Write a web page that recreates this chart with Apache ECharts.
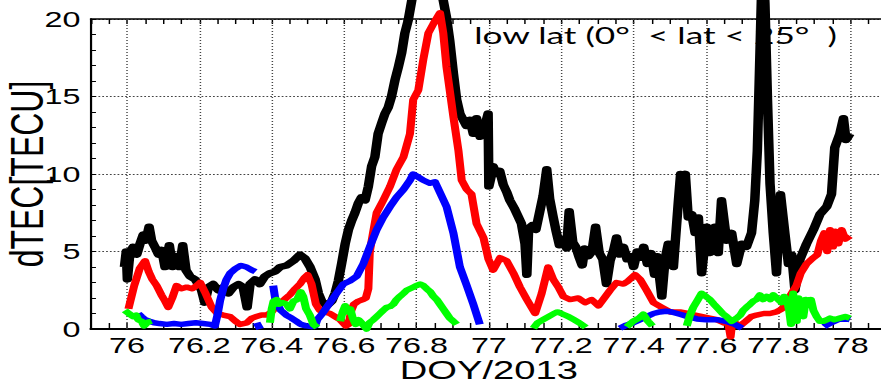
<!DOCTYPE html>
<html>
<head>
<meta charset="utf-8">
<script src="https://cdn.jsdelivr.net/npm/echarts@6/dist/echarts.min.js"></script>
<style>
html,body{margin:0;padding:0;background:#fff;overflow:hidden;width:881px;height:384px;}
#c{width:600px;height:384px;transform:scaleX(1.468333);transform-origin:0 0;}
</style>
</head>
<body>
<div id="c"></div>
<script>
const xTickLabels = [76, 76.2, 76.4, 76.6, 76.8, 77, 77.2, 77.4, 77.6, 77.8, 78];
const yTickLabels = [0, 5, 10, 15, 20];

const black = [
[75.993,4.0],[75.998,5.0],[76.001,3.2],[76.008,4.9],[76.017,5.3],[76.027,4.8],[76.036,5.5],[76.045,6.1],[76.052,5.7],[76.061,6.6],[76.068,5.7],[76.077,5.3],[76.087,4.8],[76.096,5.1],[76.105,4.0],[76.117,5.4],[76.126,4.0],[76.135,4.7],[76.145,4.0],[76.154,5.4],[76.163,3.8],[76.174,3.4],[76.188,3.2],[76.197,2.9],[76.206,2.5],[76.215,1.7],[76.225,2.7],[76.238,2.9],[76.252,2.5],[76.266,2.7],[76.280,2.3],[76.294,2.7],[76.308,2.9],[76.321,2.7],[76.332,1.4],[76.340,2.9],[76.354,3.2],[76.367,2.9],[76.381,3.4],[76.395,3.6],[76.409,3.7],[76.423,4.0],[76.441,4.1],[76.460,4.4],[76.478,4.8],[76.492,4.55],[76.506,4.0],[76.520,3.2],[76.529,2.3],[76.538,1.8],[76.552,1.5],[76.566,1.8],[76.575,2.3],[76.584,3.1],[76.593,4.2],[76.603,5.5],[76.612,6.4],[76.621,7.0],[76.630,7.5],[76.639,8.1],[76.648,8.5],[76.658,8.3],[76.667,9.2],[76.676,10.5],[76.685,11.1],[76.694,12.6],[76.704,13.3],[76.713,13.9],[76.722,14.3],[76.731,15.0],[76.741,16.1],[76.750,16.9],[76.759,17.8],[76.768,19.1],[76.777,19.9],[76.787,21.2],[76.805,23.5],[76.830,24.5],[76.855,23.5],[76.874,21.2],[76.883,20.1],[76.892,18.6],[76.902,16.5],[76.911,14.8],[76.920,13.9],[76.929,13.5],[76.938,13.1],[76.948,13.5],[76.957,12.6],[76.966,13.6],[76.976,12.4],[76.989,13.1],[76.998,13.9],[77.000,9.2],[77.005,9.7],[77.012,10.5],[77.020,10.0],[77.030,10.2],[77.040,9.3],[77.050,8.8],[77.058,8.3],[77.070,7.8],[77.080,7.3],[77.090,6.8],[77.100,5.5],[77.105,3.5],[77.110,6.5],[77.120,6.7],[77.130,6.4],[77.140,7.5],[77.150,8.6],[77.160,10.3],[77.168,8.4],[77.178,7.2],[77.186,6.3],[77.195,5.4],[77.205,5.8],[77.215,5.2],[77.222,7.6],[77.232,5.6],[77.240,5.3],[77.250,4.6],[77.258,4.1],[77.265,5.2],[77.275,4.7],[77.285,5.0],[77.295,6.6],[77.305,4.9],[77.315,4.5],[77.325,2.9],[77.335,4.4],[77.345,5.1],[77.353,5.9],[77.362,4.8],[77.372,5.3],[77.382,4.5],[77.392,4.7],[77.400,4.0],[77.410,5.0],[77.420,4.6],[77.428,5.3],[77.438,4.2],[77.448,4.9],[77.458,3.5],[77.465,4.7],[77.478,2.1],[77.487,4.5],[77.496,5.5],[77.510,4.0],[77.524,8.3],[77.530,10.0],[77.537,9.8],[77.543,10.0],[77.551,7.2],[77.561,7.4],[77.570,6.2],[77.579,7.2],[77.588,3.6],[77.602,6.6],[77.611,4.9],[77.625,6.6],[77.634,4.9],[77.643,8.3],[77.657,5.7],[77.671,6.2],[77.685,4.2],[77.699,5.5],[77.712,5.3],[77.726,6.2],[77.735,8.3],[77.742,11.5],[77.747,15.8],[77.754,22.0],[77.759,23.0],[77.763,21.0],[77.770,14.8],[77.777,9.4],[77.786,6.2],[77.795,3.6],[77.806,8.7],[77.818,6.2],[77.828,4.2],[77.837,4.8],[77.846,2.5],[77.860,4.5],[77.878,5.5],[77.897,6.4],[77.915,7.4],[77.934,7.9],[77.947,8.7],[77.956,11.7],[77.970,12.6],[77.980,13.6],[77.987,12.2],[77.998,12.6]
];

const red = [
[76.004,1.3],[76.020,2.8],[76.035,3.9],[76.050,4.4],[76.060,3.7],[76.070,3.2],[76.082,2.8],[76.095,2.2],[76.105,1.8],[76.114,1.4],[76.125,2.0],[76.137,2.8],[76.150,2.6],[76.165,2.7],[76.180,2.6],[76.193,2.8],[76.202,3.0],[76.215,2.4],[76.234,1.4],[76.250,1.0],[76.266,0.9],[76.285,0.8],[76.300,0.5],[76.312,0.3],[76.331,0.4],[76.345,0.7],[76.358,0.8],[76.372,0.9],[76.386,0.9],[76.400,1.1],[76.418,1.6],[76.435,1.9],[76.450,2.2],[76.465,2.6],[76.478,2.9],[76.490,3.3],[76.499,3.5],[76.510,2.9],[76.522,1.6],[76.533,1.2],[76.547,1.1],[76.561,1.0],[76.575,0.8],[76.589,0.6],[76.605,0.2],[76.612,0.3],[76.620,1.2],[76.627,1.6],[76.640,1.8],[76.652,1.9],[76.660,2.0],[76.667,2.6],[76.671,5.0],[76.680,6.2],[76.690,7.5],[76.708,8.3],[76.727,9.2],[76.745,10.3],[76.764,11.1],[76.782,12.6],[76.791,14.8],[76.805,15.4],[76.819,17.4],[76.833,19.1],[76.847,19.7],[76.865,20.4],[76.874,19.1],[76.883,16.9],[76.902,13.7],[76.916,11.5],[76.925,9.6],[76.939,9.0],[76.952,8.7],[76.966,6.8],[76.985,5.9],[76.999,4.5],[77.012,3.8],[77.031,4.6],[77.049,4.4],[77.068,3.6],[77.086,2.7],[77.105,1.9],[77.128,1.0],[77.146,2.3],[77.164,4.0],[77.178,3.2],[77.192,2.7],[77.206,2.1],[77.224,1.9],[77.247,2.0],[77.266,1.7],[77.284,1.9],[77.303,1.5],[77.316,1.9],[77.335,2.5],[77.353,3.0],[77.372,2.9],[77.385,3.1],[77.404,3.5],[77.418,3.2],[77.436,2.5],[77.455,1.7],[77.478,1.4],[77.501,1.1],[77.528,1.1],[77.550,1.0],[77.570,0.9],[77.590,0.8],[77.610,0.7],[77.630,0.6],[77.650,0.4],[77.660,0.6],[77.668,-0.5],[77.673,0.5],[77.694,0.2],[77.710,0.5],[77.725,0.8],[77.740,0.9],[77.760,1.0],[77.777,1.0],[77.795,1.1],[77.810,1.3],[77.823,1.75],[77.837,2.3],[77.850,2.8],[77.862,3.6],[77.878,4.2],[77.897,4.6],[77.908,4.8],[77.918,5.7],[77.927,6.2],[77.935,5.0],[77.943,6.4],[77.951,5.3],[77.958,6.3],[77.966,5.5],[77.975,6.4],[77.985,5.8],[77.998,6.0]
];

const blue = [
[76.031,1.0],[76.040,0.8],[76.050,0.6],[76.062,0.5],[76.075,0.4],[76.090,0.35],[76.110,0.3],[76.130,0.35],[76.150,0.3],[76.170,0.35],[76.190,0.4],[76.210,0.35],[76.230,0.3],[76.243,0.2],[76.250,0.9],[76.257,1.8],[76.266,2.6],[76.275,3.2],[76.285,3.6],[76.300,3.9],[76.315,4.1],[76.330,4.0],[76.345,3.8],[76.355,3.7],[76.356,null],
[76.358,0.4],[76.368,0.0],[76.370,null],
[76.404,2.8],[76.410,1.9],[76.418,1.5],[76.425,1.2],[76.440,0.9],[76.455,0.7],[76.468,0.5],[76.480,0.3],[76.495,0.2],[76.510,0.15],[76.520,0.2],[76.526,0.6],[76.540,1.0],[76.552,1.4],[76.579,2.3],[76.598,2.9],[76.616,3.1],[76.635,3.4],[76.653,4.2],[76.671,5.3],[76.690,6.4],[76.708,7.2],[76.727,7.9],[76.745,8.5],[76.764,9.0],[76.782,9.6],[76.791,10.0],[76.805,9.8],[76.819,9.6],[76.837,9.4],[76.851,9.5],[76.865,8.8],[76.883,7.9],[76.902,6.2],[76.920,4.0],[76.939,2.8],[76.957,1.6],[76.975,0.3],[76.977,null],
[77.362,0.05],[77.380,0.25],[77.399,0.4],[77.418,0.6],[77.436,0.8],[77.455,1.0],[77.473,1.1],[77.490,1.15],[77.505,1.1],[77.528,0.95],[77.550,0.8],[77.575,0.65],[77.600,0.6],[77.630,0.6],[77.655,0.5],[77.680,0.3],[77.700,0.05],[77.702,null],
[77.926,0.15],[77.945,0.4],[77.965,0.6],[77.980,0.7],[77.998,0.6]
];

const green = [
[75.994,1.2],[76.005,1.0],[76.017,0.8],[76.025,0.9],[76.031,0.6],[76.040,0.5],[76.047,0.2],[76.058,0.45],[76.068,0.5],[76.070,null],
[76.395,0.4],[76.400,1.3],[76.405,1.8],[76.413,1.9],[76.420,1.6],[76.430,1.7],[76.441,1.6],[76.450,1.3],[76.460,1.8],[76.470,1.9],[76.480,2.4],[76.487,2.1],[76.495,1.3],[76.505,0.9],[76.515,0.3],[76.526,0.1],[76.528,null],
[76.589,0.5],[76.596,1.1],[76.603,1.5],[76.610,1.1],[76.617,1.3],[76.624,0.7],[76.632,0.3],[76.640,0.6],[76.648,0.4],[76.655,0.2],[76.662,0.0],[76.670,0.4],[76.681,0.6],[76.690,0.8],[76.699,1.0],[76.708,1.2],[76.718,1.4],[76.727,1.45],[76.736,1.6],[76.745,1.9],[76.754,2.1],[76.764,2.3],[76.773,2.5],[76.782,2.6],[76.791,2.7],[76.800,2.8],[76.810,2.9],[76.819,2.8],[76.828,2.6],[76.838,2.4],[76.847,2.1],[76.856,1.9],[76.865,1.6],[76.874,1.3],[76.883,1.0],[76.892,0.7],[76.902,0.5],[76.911,0.3],[76.913,null],
[77.123,0.05],[77.135,0.4],[77.150,0.6],[77.165,0.8],[77.180,1.0],[77.190,1.1],[77.205,0.95],[77.220,0.8],[77.235,0.6],[77.250,0.4],[77.268,0.1],[77.270,null],
[77.381,0.15],[77.399,0.5],[77.415,0.7],[77.427,0.95],[77.440,0.5],[77.452,0.2],[77.454,null],
[77.547,0.2],[77.556,0.9],[77.565,1.4],[77.578,1.9],[77.588,2.3],[77.600,2.1],[77.611,1.9],[77.622,1.6],[77.634,1.3],[77.646,1.0],[77.657,0.8],[77.671,0.5],[77.685,0.7],[77.695,0.9],[77.703,1.2],[77.712,1.4],[77.722,1.6],[77.731,1.8],[77.740,1.9],[77.749,2.2],[77.758,1.9],[77.768,2.1],[77.778,1.9],[77.786,2.2],[77.795,2.0],[77.809,1.7],[77.816,2.1],[77.823,1.9],[77.830,1.2],[77.835,0.3],[77.841,2.3],[77.846,1.0],[77.851,0.5],[77.856,2.0],[77.862,1.2],[77.869,0.8],[77.876,1.9],[77.883,1.6],[77.890,1.9],[77.897,1.2],[77.906,0.8],[77.915,0.5],[77.924,0.5],[77.935,0.6],[77.943,0.7],[77.955,0.6],[77.970,0.7],[77.985,0.8],[77.998,0.7]
];

const chart = echarts.init(document.getElementById('c'), null, {renderer: 'svg'});
const FONT = 'Liberation Sans';
function majorLabel(v) {
  for (const t of xTickLabels) { if (Math.abs(v - t) < 1e-6) return String(t); }
  return '';
}
function mkLine(name, data, color, width, extra) {
  return Object.assign({
    name: name, type: 'line', data: data, showSymbol: false, symbol: 'none',
    clip: false, connectNulls: false, animation: false, silent: true,
    lineStyle: {color: color, width: width, join: 'round'}, itemStyle: {color: color}
  }, extra || {});
}
chart.setOption({
  animation: false,
  backgroundColor: '#fff',
  title: {
    text: 'low lat (0°  < lat < 25°  )',
    left: 323, top: 22, padding: 0,
    textStyle: {fontFamily: 'Lato', fontSize: 24, fontWeight: 'normal', color: '#000'}
  },
  grid: {left: 61.85, right: -4.0, top: 19, bottom: 55, containLabel: false, outerBoundsMode: 'none'},
  xAxis: [{
    type: 'value', position: 'bottom', min: 75.9, max: 78.1, interval: 0.05,
    axisLine: {show: true, onZero: false, lineStyle: {color: '#000', width: 2}},
    axisTick: {show: true, inside: true, length: 6, lineStyle: {color: '#000', width: 1}},
    axisLabel: {formatter: majorLabel, fontFamily: FONT, fontSize: 22, color: '#000', margin: 5, showMinLabel: false, showMaxLabel: false},
    splitLine: {show: false},
    name: 'DOY/2013', nameLocation: 'middle', nameGap: 28, nameMoveOverlap: false,
    nameTextStyle: {fontFamily: FONT, fontSize: 26, color: '#000'}
  }, {
    type: 'value', position: 'top', min: 75.9, max: 78.1, interval: 0.05,
    axisLine: {show: true, onZero: false, lineStyle: {color: '#000', width: 1.5}},
    axisTick: {show: true, inside: true, length: 5, lineStyle: {color: '#000', width: 1}},
    axisLabel: {show: false}, splitLine: {show: false}
  }],
  yAxis: {
    type: 'value', min: yTickLabels[0], max: yTickLabels[yTickLabels.length - 1], interval: 5,
    axisLine: {show: true, onZero: false, lineStyle: {color: '#000', width: 1.5}},
    axisTick: {show: true, inside: true, length: 3.5, lineStyle: {color: '#000', width: 1}},
    minorTick: {show: true, splitNumber: 5, length: 3.5, lineStyle: {color: '#000', width: 1}},
    axisLabel: {fontFamily: FONT, fontSize: 22, color: '#000', margin: 7},
    splitLine: {show: true, lineStyle: {color: '#444', width: 1, type: [1.2, 1.4]}},
    name: 'dTEC[TECU]', nameLocation: 'middle', nameGap: 27, nameMoveOverlap: false,
    nameTextStyle: {fontFamily: FONT, fontSize: 32, color: '#000'}
  },
  series: [
    mkLine('black', black, '#000000', 6.5, {
      markLine: {
        silent: true, symbol: 'none', z: 1, animation: false,
        label: {show: false},
        lineStyle: {color: '#444', width: 1, type: [1, 2]},
        data: xTickLabels.map(v => ({xAxis: v}))
      }
    }),
    mkLine('red', red, '#ff0000', 5.5),
    mkLine('blue', blue, '#0000ff', 5.5),
    mkLine('green', green, '#00ff00', 5.5)
  ]
});
</script>
</body>
</html>
